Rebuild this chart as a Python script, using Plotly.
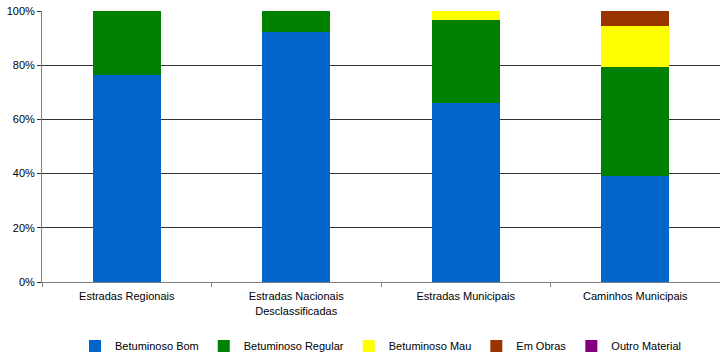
import plotly.graph_objects as go

categories = ["Estradas Regionais", "Estradas Nacionais<br>Desclassificadas", "Estradas Municipais", "Caminhos Municipais"]
series_names = ["Betuminoso Bom", "Betuminoso Regular", "Betuminoso Mau", "Em Obras", "Outro Material"]
bom = [76.4, 92.3, 66.1, 39.1]
regular = [23.6, 7.7, 30.6, 40.2]
mau = [0.0, 0.0, 3.3, 15.2]
obras = [0.0, 0.0, 0.0, 5.5]
outro = [0.0, 0.0, 0.0, 0.0]
colors = ["#0066CC", "#008000", "#FFFF00", "#993300", "#800080"]

fig = go.Figure()
for name, vals, col in zip(series_names, [bom, regular, mau, obras, outro], colors):
    fig.add_trace(go.Bar(x=categories, y=vals, name=name, marker=dict(color=col, line=dict(width=0)),
                         width=0.4))

font = "Liberation Sans, Arial, sans-serif"
fig.update_layout(
    barmode="stack",
    width=720, height=356,
    margin=dict(l=42, r=0, t=11, b=74, autoexpand=False),
    plot_bgcolor="white", paper_bgcolor="white",
    font=dict(family=font, size=11, color="#000000"),
    showlegend=True,
    legend=dict(orientation="h", x=0.5, xanchor="center", yref="container", y=0.028, yanchor="middle",
                font=dict(size=11), traceorder="normal", itemwidth=30, tracegroupgap=0),
)
fig.update_xaxes(showline=True, linecolor="#808080", linewidth=1, ticks="outside", tickson="boundaries",
                 ticklen=4, tickcolor="#808080", showgrid=False, tickfont=dict(size=11),
                 ticklabelstandoff=4)
fig.update_yaxes(range=[0, 100], dtick=20, ticksuffix="%", showgrid=True, gridcolor="#333333", gridwidth=1,
                 showline=True, linecolor="#808080", linewidth=1, ticks="outside", ticklen=4,
                 tickcolor="#333333", zeroline=False, tickfont=dict(size=11))

fig.write_html("out.html")
